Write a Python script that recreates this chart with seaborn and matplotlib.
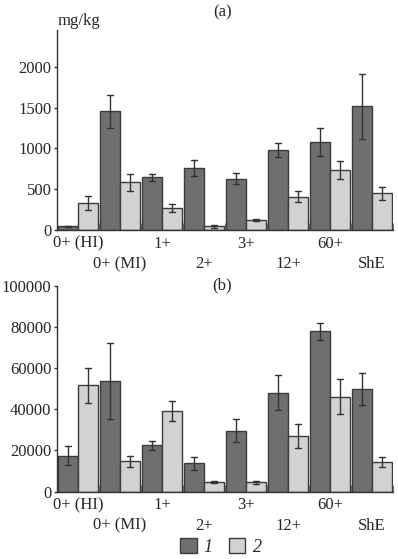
import numpy as np
import pandas as pd
import matplotlib
matplotlib.use("Agg")
import matplotlib.pyplot as plt
import seaborn as sns

# Группы и серии
groups = ["0+ (HI)", "0+ (MI)", "1+", "2+", "3+", "12+", "60+", "ShE"]
series = ["1", "2"]

# (a) mg/kg
a_mean_1 = [45, 1455, 645, 760, 630, 977, 1080, 1515]
a_err_1 = [10, 200, 45, 95, 70, 85, 175, 395]
a_mean_2 = [327, 584, 266, 45, 119, 408, 735, 450]
a_err_2 = [85, 105, 50, 15, 10, 70, 110, 80]

# (b)
b_mean_1 = [17400, 53600, 22500, 13800, 29600, 48000, 78000, 49900]
b_err_1 = [4500, 18500, 2300, 3200, 5500, 8500, 4200, 7600]
b_mean_2 = [51600, 14600, 39300, 4600, 4400, 27000, 46200, 14500]
b_err_2 = [8500, 2500, 4800, 700, 700, 6000, 8700, 2500]

a_ticks = [0, 500, 1000, 1500, 2000]
b_ticks = [0, 20000, 40000, 60000, 80000, 100000]

DARK = "#6f6f6f"
LIGHT = "#d2d2d2"
EDGE = "#3c3c3c"
FS = 12


def monta_tabela(m1, e1, m2, e2):
    # duas linhas por barra: media-erro e media+erro -> media e intervalo exatos
    linhas = []
    for serie, medias, erros in ((series[0], m1, e1), (series[1], m2, e2)):
        for g, m, e in zip(groups, medias, erros):
            linhas.append((g, serie, m - e))
            linhas.append((g, serie, m + e))
    return pd.DataFrame(linhas, columns=["group", "series", "value"])


sns.set_style("ticks")
plt.rcParams["font.family"] = ["Liberation Serif", "DejaVu Serif"]
plt.rcParams["font.size"] = FS

fig = plt.figure(figsize=(3.98, 5.59), dpi=100)
W, H = 398, 559
ax_a = fig.add_axes([57 / W, 1 - 230 / H, 336 / W, 200 / H])
ax_b = fig.add_axes([57 / W, 1 - 491.5 / H, 336 / W, 205.5 / H])


def desenha(ax, dados, ticks, ylim):
    sns.barplot(data=dados, x="group", y="value", hue="series",
                order=groups, hue_order=series, palette=[DARK, LIGHT],
                width=0.93, gap=0, estimator="mean",
                errorbar=lambda v: (v.min(), v.max()),
                capsize=0.3, err_kws={"color": "#333333", "linewidth": 1},
                edgecolor=EDGE, linewidth=1, saturation=1, ax=ax)
    ax.set_xlim(-0.5, 7.5)
    ax.set_ylim(*ylim)
    ax.set_yticks(ticks)
    ax.set_yticklabels([str(t) for t in ticks])
    ax.set_xticks(range(len(groups)))
    ax.set_xticklabels(groups)
    ax.set_xticks(np.arange(0.5, 8.0, 1.0), minor=True)
    ax.tick_params(axis="x", which="major", length=0, pad=4, labelsize=FS)
    ax.tick_params(axis="x", which="minor", direction="in", length=5,
                   width=0.8, color="#777777")
    ax.tick_params(axis="y", direction="out", length=2.5, width=1,
                   color="#333333", labelsize=FS, pad=1.5)
    # rotulos alternados em duas linhas
    for i, t in enumerate(ax.xaxis.get_major_ticks()):
        if i % 2 == 1:
            t.set_pad(19)
    ax.set_xlabel("")
    ax.set_ylabel("")
    sns.despine(ax=ax)
    for s in ("left", "bottom"):
        ax.spines[s].set_color("#333333")
        ax.spines[s].set_linewidth(1)


desenha(ax_a, monta_tabela(a_mean_1, a_err_1, a_mean_2, a_err_2),
        a_ticks, (0, 2450))
desenha(ax_b, monta_tabela(b_mean_1, b_err_1, b_mean_2, b_err_2),
        b_ticks, (0, 100000))

handles, labels = ax_a.get_legend_handles_labels()
for ax in (ax_a, ax_b):
    if ax.get_legend() is not None:
        ax.get_legend().remove()

fig.legend(handles, series, loc="center", bbox_to_anchor=(0.555, 1 - 547 / H),
           ncol=2, frameon=False, prop={"style": "italic", "size": 13},
           handlelength=0.9, handleheight=0.9, columnspacing=0.9,
           handletextpad=0.4)

fig.text(58 / W, 1 - 21 / H, "mg/kg", ha="left", va="center", fontsize=FS)
fig.text(223 / W, 1 - 12 / H, "(a)", ha="center", va="center", fontsize=FS)
fig.text(222 / W, 1 - 285 / H, "(b)", ha="center", va="center", fontsize=FS)

fig.savefig("out.png", dpi=100)
